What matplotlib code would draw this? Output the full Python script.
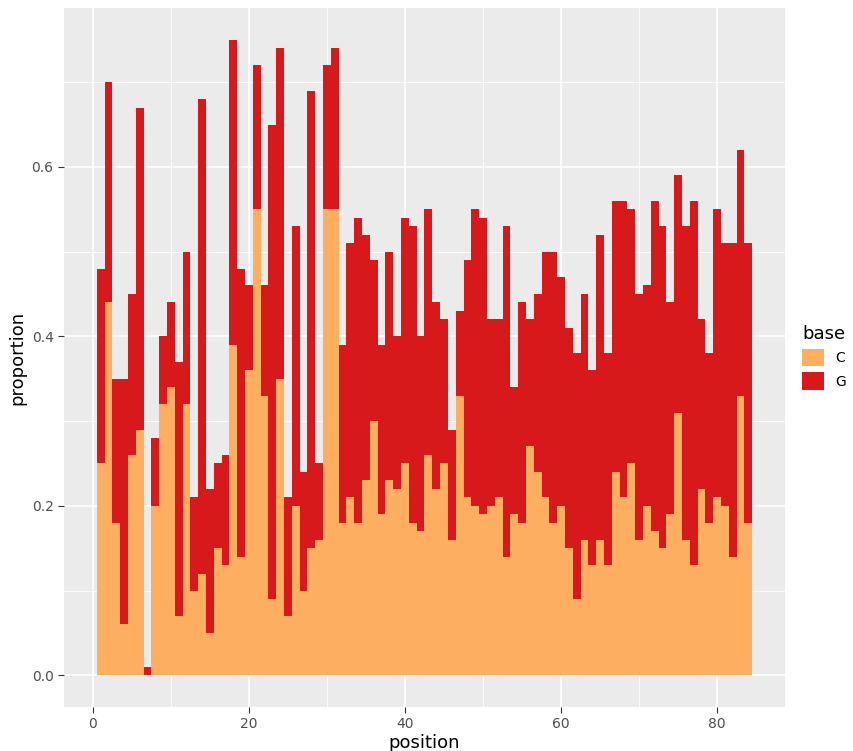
import matplotlib
matplotlib.use("Agg")
import matplotlib.pyplot as plt
import numpy as np

positions = list(range(1, 85))
c_vals = [.25,.44,.18,.06,.26,.29,.0,.20,.32,.34,.07,.32,.10,.12,.05,.15,.13,.39,.14,.36,
          .55,.33,.09,.35,.07,.20,.10,.15,.16,.55,.55,.18,.21,.18,.23,.30,.19,.23,.22,.25,
          .18,.17,.26,.22,.25,.16,.33,.21,.20,.19,.20,.21,.14,.19,.18,.27,.24,.21,.18,.20,
          .15,.09,.16,.13,.16,.13,.24,.21,.25,.16,.20,.17,.15,.19,.31,.16,.13,.22,.18,.21,
          .20,.14,.33,.18]
totals = [.48,.70,.35,.35,.45,.67,.01,.28,.40,.44,.37,.50,.21,.68,.22,.25,.26,.75,.48,.46,
          .72,.46,.65,.74,.21,.53,.24,.69,.25,.72,.74,.39,.51,.54,.52,.49,.39,.50,.40,.54,
          .53,.40,.55,.44,.42,.29,.43,.49,.55,.54,.42,.42,.53,.34,.44,.42,.45,.50,.50,.47,
          .41,.38,.45,.36,.52,.38,.56,.56,.55,.45,.46,.56,.53,.44,.59,.53,.56,.42,.38,.55,
          .51,.51,.62,.51]
g_vals = [t - c for t, c in zip(totals, c_vals)]
bases = ["C", "G"]
colors = {"C": "#FDAE61", "G": "#D7191C"}

fig = plt.figure(figsize=(8.54, 7.51), dpi=100)
ax = fig.add_axes([64/854, 44/751, (785-64)/854, (743-44)/751])
ax.set_facecolor("#EBEBEB")
ax.bar(positions, c_vals, width=1.0, color=colors["C"], label="C", zorder=2, linewidth=0)
ax.bar(positions, g_vals, bottom=c_vals, width=1.0, color=colors["G"], label="G", zorder=2, linewidth=0)

ax.set_xlim(-3.7, 88.7)
ax.set_ylim(-0.0375, 0.7875)
ax.set_xticks([0, 20, 40, 60, 80])
ax.set_yticks([0.0, 0.2, 0.4, 0.6])
ax.set_yticklabels(["0.0", "0.2", "0.4", "0.6"])
ax.set_xticks([10, 30, 50, 70], minor=True)
ax.set_yticks([0.1, 0.3, 0.5, 0.7], minor=True)
ax.grid(which="major", color="white", linewidth=1.2, zorder=0)
ax.grid(which="minor", color="white", linewidth=0.6, zorder=0)
ax.set_axisbelow(True)
for s in ax.spines.values():
    s.set_visible(False)
ax.tick_params(which="major", length=4, color="#333333", labelsize=10, labelcolor="#4D4D4D")
ax.tick_params(which="minor", length=0)
ax.set_xlabel("position", fontsize=13, labelpad=2)
ax.set_ylabel("proportion", fontsize=13)

leg = ax.legend(title="base", loc="center left", bbox_to_anchor=(1.01, 0.5), frameon=False,
                fontsize=10, title_fontsize=13, handlelength=1.6, handleheight=1.6,
                borderaxespad=0.3, labelspacing=0.4)
leg._legend_box.align = "left"
fig.savefig("out.png", dpi=100)
